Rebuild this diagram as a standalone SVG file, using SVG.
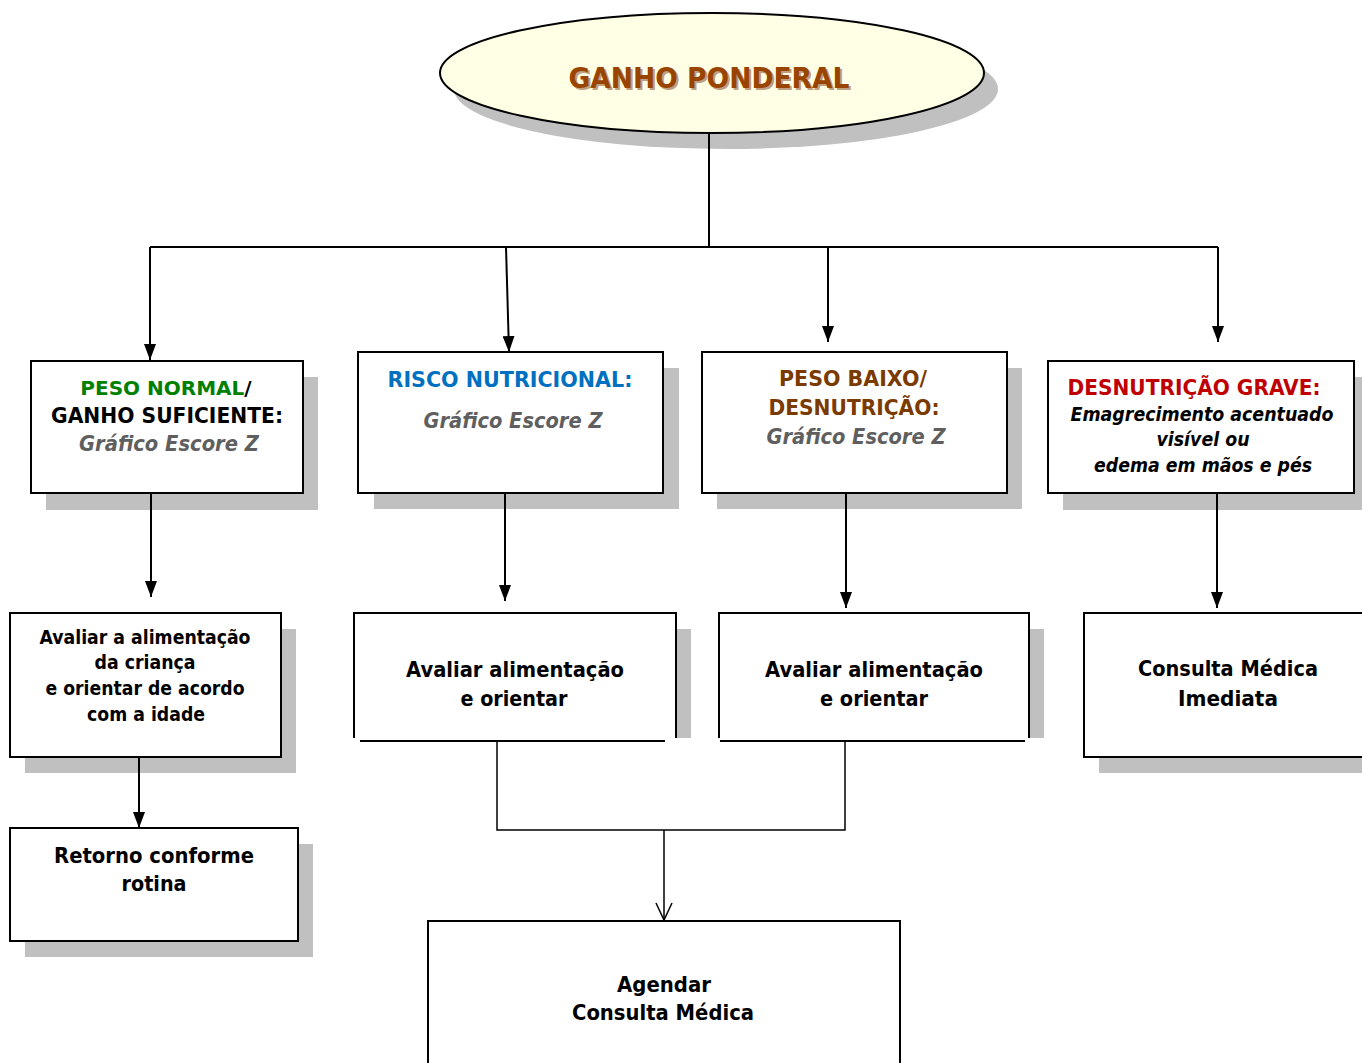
<svg xmlns="http://www.w3.org/2000/svg" width="1362" height="1063" viewBox="0 0 1362 1063">
<style>
.box{fill:#fff;stroke:#000;stroke-width:2}
.sh{fill:#c0c0c0;stroke:none}
.t{font-family:"DejaVu Sans","Verdana",sans-serif;font-weight:bold;text-anchor:middle}
.it{font-style:italic}
.gray{fill:#5f5f5f}
.ln{fill:none;stroke:#000;stroke-width:2}
.ln1{fill:none;stroke:#000;stroke-width:1.5}
</style>
<defs>
<marker id="ah" viewBox="0 0 16 12" refX="16" refY="6" markerWidth="16" markerHeight="12" markerUnits="userSpaceOnUse" orient="auto">
<path d="M0,0 L16,6 L0,12 Z" fill="#000"/>
</marker>
</defs>
<rect width="1362" height="1063" fill="#fff"/>

<g id="n-title">
<ellipse cx="726" cy="89" rx="272" ry="60" class="sh"/>
<ellipse cx="712" cy="73" rx="272" ry="60" fill="#ffffe6" stroke="#000" stroke-width="2"/>
<text class="t" x="711" y="90" font-size="29" fill="#c0a080" textLength="281" lengthAdjust="spacingAndGlyphs">GANHO PONDERAL</text>
<text class="t" x="709" y="88" font-size="29" fill="#994400" textLength="281" lengthAdjust="spacingAndGlyphs">GANHO PONDERAL</text>
</g>

<g id="n-normal">
<rect x="46" y="377" width="272" height="133" class="sh"/>
<rect x="31" y="361" width="272" height="132" class="box"/>
<text class="t" x="166" y="395" font-size="20" fill="#008000">PESO NORMAL<tspan fill="#000">/</tspan></text>
<text class="t" x="167" y="423" font-size="21" fill="#000" textLength="232" lengthAdjust="spacingAndGlyphs">GANHO SUFICIENTE:</text>
<text class="t it gray" x="169" y="451" font-size="21" textLength="180" lengthAdjust="spacingAndGlyphs">Gráfico Escore Z</text>
</g>

<g id="n-risco">
<rect x="374" y="368" width="305" height="141" class="sh"/>
<rect x="358" y="352" width="305" height="141" class="box"/>
<text class="t" x="510" y="387" font-size="21" fill="#0070c0" textLength="245" lengthAdjust="spacingAndGlyphs">RISCO NUTRICIONAL:</text>
<text class="t it gray" x="513" y="428" font-size="21" textLength="179" lengthAdjust="spacingAndGlyphs">Gráfico Escore Z</text>
</g>

<g id="n-baixo">
<rect x="717" y="368" width="305" height="141" class="sh"/>
<rect x="702" y="352" width="305" height="141" class="box"/>
<text class="t" x="853" y="386" font-size="21" fill="#7a3a00" textLength="148" lengthAdjust="spacingAndGlyphs">PESO BAIXO/</text>
<text class="t" x="854" y="415" font-size="21" fill="#7a3a00" textLength="171" lengthAdjust="spacingAndGlyphs">DESNUTRIÇÃO:</text>
<text class="t it gray" x="856" y="444" font-size="21" textLength="179" lengthAdjust="spacingAndGlyphs">Gráfico Escore Z</text>
</g>

<g id="n-grave">
<rect x="1063" y="377" width="306" height="133" class="sh"/>
<rect x="1048" y="361" width="306" height="132" class="box"/>
<text class="t" x="1194" y="395" font-size="21" fill="#c00000" textLength="253" lengthAdjust="spacingAndGlyphs">DESNUTRIÇÃO GRAVE:</text>
<text class="t it" x="1202" y="421" font-size="19" fill="#000" textLength="263" lengthAdjust="spacingAndGlyphs">Emagrecimento acentuado</text>
<text class="t it" x="1203" y="446" font-size="19" fill="#000" textLength="93" lengthAdjust="spacingAndGlyphs">visível ou</text>
<text class="t it" x="1203" y="472" font-size="19" fill="#000" textLength="218" lengthAdjust="spacingAndGlyphs">edema em mãos e pés</text>
</g>

<g id="n-avaliar1">
<rect x="25" y="629" width="271" height="144" class="sh"/>
<rect x="10" y="613" width="271" height="144" class="box"/>
<text class="t" x="145" y="644" font-size="19" fill="#000" textLength="211" lengthAdjust="spacingAndGlyphs">Avaliar a alimentação</text>
<text class="t" x="145" y="669" font-size="19" fill="#000" textLength="101" lengthAdjust="spacingAndGlyphs">da criança</text>
<text class="t" x="145" y="695" font-size="19" fill="#000" textLength="199" lengthAdjust="spacingAndGlyphs">e orientar de acordo</text>
<text class="t" x="146" y="721" font-size="19" fill="#000" textLength="118" lengthAdjust="spacingAndGlyphs">com a idade</text>
</g>

<g id="n-avaliar2">
<rect x="677" y="629" width="14" height="109" class="sh"/>
<path class="ln" d="M354,738 V613 H676 V738"/>
<path class="ln" d="M360,741 H665"/>
<text class="t" x="515" y="677" font-size="22" fill="#000" textLength="218" lengthAdjust="spacingAndGlyphs">Avaliar alimentação</text>
<text class="t" x="514" y="706" font-size="22" fill="#000" textLength="107" lengthAdjust="spacingAndGlyphs">e orientar</text>
</g>

<g id="n-avaliar3">
<rect x="1030" y="629" width="14" height="109" class="sh"/>
<path class="ln" d="M719,738 V613 H1029 V738"/>
<path class="ln" d="M720,741 H1025"/>
<text class="t" x="874" y="677" font-size="22" fill="#000" textLength="218" lengthAdjust="spacingAndGlyphs">Avaliar alimentação</text>
<text class="t" x="874" y="706" font-size="22" fill="#000" textLength="108" lengthAdjust="spacingAndGlyphs">e orientar</text>
</g>

<g id="n-consulta">
<rect x="1099" y="629" width="290" height="144" class="sh"/>
<rect x="1084" y="613" width="290" height="144" class="box"/>
<text class="t" x="1228" y="676" font-size="22" fill="#000" textLength="180" lengthAdjust="spacingAndGlyphs">Consulta Médica</text>
<text class="t" x="1228" y="706" font-size="22" fill="#000" textLength="100" lengthAdjust="spacingAndGlyphs">Imediata</text>
</g>

<g id="n-retorno">
<rect x="25" y="844" width="288" height="113" class="sh"/>
<rect x="10" y="828" width="288" height="113" class="box"/>
<text class="t" x="154" y="863" font-size="22" fill="#000" textLength="200" lengthAdjust="spacingAndGlyphs">Retorno conforme</text>
<text class="t" x="154" y="891" font-size="22" fill="#000" textLength="65" lengthAdjust="spacingAndGlyphs">rotina</text>
</g>

<g id="n-agendar">
<rect x="428" y="921" width="472" height="160" class="box"/>
<text class="t" x="664" y="992" font-size="22" fill="#000" textLength="94" lengthAdjust="spacingAndGlyphs">Agendar</text>
<text class="t" x="663" y="1020" font-size="22" fill="#000" textLength="182" lengthAdjust="spacingAndGlyphs">Consulta Médica</text>
</g>

<g id="connectors">
<path class="ln" d="M709,134 V247"/>
<path class="ln" d="M150,247 H1218"/>
<path class="ln" d="M150,247 V360" marker-end="url(#ah)"/>
<path class="ln" d="M506,247 L509,352" marker-end="url(#ah)"/>
<path class="ln" d="M828,247 V342" marker-end="url(#ah)"/>
<path class="ln" d="M1218,247 V342" marker-end="url(#ah)"/>
<path class="ln" d="M151,494 V597" marker-end="url(#ah)"/>
<path class="ln" d="M505,494 V601" marker-end="url(#ah)"/>
<path class="ln" d="M846,494 V608" marker-end="url(#ah)"/>
<path class="ln" d="M1217,494 V608" marker-end="url(#ah)"/>
<path class="ln" d="M139,758 V828" marker-end="url(#ah)"/>
<path class="ln1" d="M497,742 V830 H845 V742"/>
<path class="ln1" d="M664,830 V920"/>
<path class="ln1" d="M656,903 L664,920 L672,903"/>
</g>
</svg>
